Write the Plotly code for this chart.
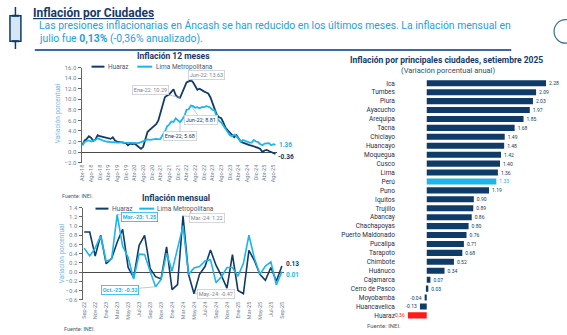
import plotly.graph_objects as go

W, H = 567, 335
def px(x): return x / W
def py(y): return 1 - y / H

FONT = "Roboto, sans-serif"
NAVY = "#0f3b68"
CYAN = "#1cb5ec"
TITLE = "#163a6b"
SUB = "#1f9ee0"
TICK = "#6f7f96"
YT = "#74b4e0"

# ---------------- data ----------------
MESES = ["Ene", "Feb", "Mar", "Abr", "May", "Jun", "Jul", "Ago", "Sep", "Oct", "Nov", "Dic"]

def month_labels(start_m, start_y, n):
    out = []
    m, y = start_m, start_y
    for _ in range(n):
        out.append(f"{MESES[m]}-{y:02d}")
        m += 1
        if m == 12:
            m = 0
            y += 1
    return out

meses_anual = month_labels(3, 18, 90)      # Abr-18 .. Sep-25
huaraz_anual = [1.3, 2.2, 2.5, 3.0, 2.7, 2.1, 2.4, 3.2, 3.0, 2.9,
                2.9, 2.8, 2.6, 2.5, 2.8, 2.2, 2.0, 1.9, 1.8, 1.8,
                1.7, 1.3, 1.6, 1.5, 1.6, 1.3, 1.0, 0.6, 1.0, 2.6,
                3.8, 4.2, 4.6, 5.0, 5.3, 6.0, 7.4, 8.8, 10.4, 10.7,
                10.9, 11.4, 11.9, 10.8, 10.4, 10.29, 11.2, 12.4, 13.2, 13.4,
                13.63, 13.2, 12.6, 11.8, 12.0, 11.7, 11.5, 11.3, 11.1, 10.4,
                9.2, 8.2, 7.0, 6.6, 6.4, 5.6, 4.6, 4.1, 3.6, 3.2,
                2.8, 3.2, 2.5, 2.0, 1.8, 1.6, 1.5, 1.3, 1.2, 1.1,
                1.0, 0.8, 0.6, 0.0, 0.3, 0.4, 0.2, 0.0, -0.3, -0.36]
lima_anual = [1.3, 1.9, 2.1, 2.2, 2.0, 2.1, 2.3, 2.6, 2.4, 2.2,
              2.1, 2.0, 1.9, 1.9, 1.9, 1.8, 1.8, 1.8, 1.9, 1.8,
              1.8, 1.8, 1.7, 1.8, 1.7, 1.8, 1.7, 1.9, 2.1, 2.3,
              2.4, 2.3, 2.4, 2.4, 2.5, 2.4, 2.5, 3.3, 3.8, 4.9,
              5.2, 5.8, 5.7, 6.4, 6.0, 5.68, 6.2, 6.8, 8.0, 8.1,
              8.81, 8.7, 8.4, 8.5, 8.3, 8.5, 8.5, 8.7, 8.6, 8.4,
              8.0, 7.9, 6.5, 5.9, 5.6, 5.0, 4.3, 3.6, 3.2, 3.0,
              3.3, 3.0, 2.4, 2.0, 2.3, 2.1, 2.0, 1.8, 1.8, 2.3,
              2.0, 1.9, 1.5, 1.3, 1.6, 1.7, 1.7, 1.3, 1.5, 1.36]

meses_mensual = month_labels(8, 22, 37)    # Sep-22 .. Sep-25
huaraz_mensual = [0.87, 0.87, 0.35, 0.80, 0.18, 0.30, 0.65, 0.93, 0.10, -0.12,
                  0.58, 0.80, 0.08, -0.10, -0.15, 0.55, -0.38, -0.27, 1.22, -0.05,
                  -0.47, -0.05, 0.12, 0.48, 0.15, -0.08, -0.35, 0.38, -0.40, -0.47,
                  0.47, 0.25, -0.05, -0.18, 0.10, -0.20, 0.13]
lima_mensual = [0.52, 0.35, 0.52, 0.79, 0.23, 0.29, 1.25, 0.56, 0.32, -0.15,
                0.39, 0.38, 0.02, -0.32, -0.16, 0.41, 0.02, 0.55, 1.01, -0.05,
                0.09, 0.12, 0.24, 0.27, -0.23, -0.10, 0.10, 0.10, -0.09, 0.19,
                0.80, 0.30, -0.05, 0.13, 0.22, -0.28, 0.01]

ciudades = ["Ica", "Tumbes", "Piura", "Ayacucho", "Arequipa", "Tacna", "Chiclayo",
            "Huancayo", "Moquegua", "Cusco", "Lima", "Perú", "Puno", "Iquitos",
            "Trujillo", "Abancay", "Chachapoyas", "Puerto Maldonado", "Pucallpa",
            "Tarapoto", "Chimbote", "Huánuco", "Cajamarca", "Cerro de Pasco",
            "Moyobamba", "Huancavelica", "Huaraz"]
inflacion_ciudad = [2.28, 2.09, 2.03, 1.97, 1.85, 1.68, 1.49, 1.48, 1.42, 1.40,
                    1.36, 1.33, 1.19, 0.90, 0.89, 0.86, 0.80, 0.76, 0.71, 0.68,
                    0.52, 0.34, 0.07, 0.03, -0.04, -0.13, -0.36]

# ---------------- figure ----------------
fig = go.Figure()

fig.add_trace(go.Scatter(x=meses_anual, y=huaraz_anual, mode="lines",
                         line=dict(color=NAVY, width=1.8), xaxis="x", yaxis="y",
                         showlegend=False))
fig.add_trace(go.Scatter(x=meses_anual, y=lima_anual, mode="lines",
                         line=dict(color=CYAN, width=1.8), xaxis="x", yaxis="y",
                         showlegend=False))
fig.add_trace(go.Scatter(x=meses_mensual, y=huaraz_mensual, mode="lines",
                         line=dict(color=NAVY, width=1.6), xaxis="x2", yaxis="y2",
                         showlegend=False))
fig.add_trace(go.Scatter(x=meses_mensual, y=lima_mensual, mode="lines",
                         line=dict(color=CYAN, width=1.6), xaxis="x2", yaxis="y2",
                         showlegend=False))

bar_colors = []
txt_colors = []
for c in ciudades:
    if c == "Perú":
        bar_colors.append(CYAN); txt_colors.append(CYAN)
    elif c == "Huaraz":
        bar_colors.append("#ff1a1a"); txt_colors.append("#ff1a1a")
    else:
        bar_colors.append(NAVY); txt_colors.append(NAVY)

fig.add_trace(go.Bar(x=inflacion_ciudad, y=ciudades, orientation="h",
                     marker=dict(color=bar_colors, line=dict(width=0)),
                     text=[f"{v:.2f}" for v in inflacion_ciudad],
                     textposition="outside", cliponaxis=False,
                     textfont=dict(size=5, color=txt_colors, family=FONT),
                     xaxis="x3", yaxis="y3", showlegend=False))

tickf = dict(size=6, color=TICK, family=FONT)

fig.update_layout(
    width=W, height=H, margin=dict(l=0, r=0, t=0, b=0),
    paper_bgcolor="white", plot_bgcolor="white",
    font=dict(family=FONT),
    bargap=0.32,
    xaxis=dict(domain=[px(80), px(276)], anchor="y", type="category",
               range=[-0.4, 89.5], tickvals=meses_anual[::4], tickangle=-90,
               tickfont=dict(size=5.5, color=TICK, family=FONT),
               showgrid=False, showline=False, ticks="", zeroline=False),
    yaxis=dict(domain=[py(162), py(65)], anchor="x", range=[-2, 16], dtick=2,
               tickformat=".1f", tickfont=tickf, showgrid=False,
               zeroline=True, zerolinecolor="#4a4a4a", zerolinewidth=1,
               showline=True, linecolor="#666", linewidth=1,
               ticks="outside", ticklen=3, tickcolor="#666"),
    xaxis2=dict(domain=[px(81), px(283)], anchor="y2", type="category",
                range=[-0.3, 36.3], tickvals=meses_mensual[::2], tickangle=-90,
                tickfont=dict(size=5.5, color=TICK, family=FONT),
                showgrid=False, showline=False, ticks="", zeroline=False),
    yaxis2=dict(domain=[py(302), py(208)], anchor="x2", range=[-0.6, 1.4], dtick=0.2,
                tickformat=".1f", tickfont=tickf, showgrid=False,
                zeroline=True, zerolinecolor="#4a4a4a", zerolinewidth=1,
                showline=True, linecolor="#666", linewidth=1,
                ticks="outside", ticklen=3, tickcolor="#666"),
    xaxis3=dict(domain=[px(400), px(560)], anchor="y3",
                range=[-27 / 52.6, 133 / 52.6], visible=False),
    yaxis3=dict(domain=[py(322.6), py(76.4)], anchor="x3", type="category",
                categoryorder="array", categoryarray=ciudades,
                range=[len(ciudades) - 0.5, -0.5], ticklabelstandoff=4,
                tickfont=dict(size=6.5, color="#1f2d4a", family=FONT),
                showgrid=False, showline=False, ticks="", zeroline=False),
)

ann = []
def A(x, y, text, size, color, bold=False, xanchor="center", **kw):
    t = f"<b>{text}</b>" if bold else text
    d = dict(x=px(x), y=py(y), xref="paper", yref="paper", text=t, showarrow=False,
             xanchor=xanchor, yanchor="middle",
             font=dict(size=size, color=color, family=FONT))
    d.update(kw)
    ann.append(d)

# header
A(29, 9, "<u>Inflación por Ciudades</u>", 12, TITLE, bold=True, xanchor="left")
A(35, 22, "Las presiones inflacionarias en Áncash se han reducido en los últimos meses. La inflación mensual en",
  10.4, SUB, xanchor="left")
A(35, 35, "julio fue <b>0,13%</b> (-0,36% anualizado).", 10.4, SUB, xanchor="left")

# chart titles
A(172, 53, "Inflación 12 meses", 8.5, TITLE, bold=True)
A(175, 198, "Inflación mensual", 8.5, TITLE, bold=True)
A(447, 57, "Inflación por principales ciudades, setiembre 2025", 8.5, TITLE, bold=True)
A(448, 68, "(Variación porcentual anual)", 7.5, "#3b4a63")

# legends text
A(105, 64, "Huaraz", 6.5, "#4a5a72", xanchor="left")
A(153, 64, "Lima Metropolitana", 6.5, "#4a5a72", xanchor="left")
A(109, 209, "Huaraz", 6.5, "#4a5a72", xanchor="left")
A(154, 209, "Lima Metropolitana", 6.5, "#4a5a72", xanchor="left")

# y titles
A(56, 112, "Variación porcentual", 6.5, YT, textangle=-90)
A(60, 255, "Variación porcentual", 6.5, YT, textangle=-90)

# sources
A(58, 196, "Fuente: INEI.", 5.5, "#4a5a72", xanchor="left")
A(60, 332, "Fuente: INEI.", 5.5, "#4a5a72", xanchor="left")
A(365, 328, "Fuente: INEI.", 6, "#4a5a72", xanchor="left")

# end labels
ann.append(dict(x=meses_anual[-1], y=lima_anual[-1], xref="x", yref="y", text="<b>1.36</b>",
                showarrow=False, xanchor="left", xshift=2, font=dict(size=6.5, color=CYAN, family=FONT)))
ann.append(dict(x=meses_anual[-1], y=huaraz_anual[-1], xref="x", yref="y", text="<b>-0.36</b>",
                showarrow=False, xanchor="left", xshift=1, yshift=-3, font=dict(size=6.5, color=NAVY, family=FONT)))
ann.append(dict(x=meses_mensual[-1], y=huaraz_mensual[-1], xref="x2", yref="y2", text="<b>0.13</b>",
                showarrow=False, xanchor="left", xshift=2, yshift=2, font=dict(size=6.5, color=NAVY, family=FONT)))
ann.append(dict(x=meses_mensual[-1], y=lima_mensual[-1], xref="x2", yref="y2", text="<b>0.01</b>",
                showarrow=False, xanchor="left", xshift=2, yshift=-3, font=dict(size=6.5, color=CYAN, family=FONT)))

# callouts
def callout(xref, yref, xv, yv, text, ax, ay, color, border, bold=False):
    t = f"<b>{text}</b>" if bold else text
    ann.append(dict(x=xv, y=yv, xref=xref, yref=yref, text=t, showarrow=True,
                    arrowhead=0, arrowwidth=0.6, arrowcolor="#9aa3ad", ax=ax, ay=ay,
                    bgcolor="white", bordercolor=border, borderwidth=0.8, borderpad=1,
                    font=dict(size=5.5, color=color, family=FONT)))

i = meses_anual.index("Jun-22"); callout("x", "y", meses_anual[i], huaraz_anual[i], "Jun-22: 13.63", 16, -5, "#7a8594", "#c8cdd3")
i = meses_anual.index("Ene-22"); callout("x", "y", meses_anual[i], huaraz_anual[i], "Ene-22: 10.29", -30, -8, "#7a8594", "#c8cdd3")
i = meses_anual.index("Jun-22"); callout("x", "y", meses_anual[i], lima_anual[i], "Jun-22; 8.81", 10, 14, NAVY, "#c8cdd3")
i = meses_anual.index("Ene-22"); callout("x", "y", meses_anual[i], lima_anual[i], "Ene-22; 5.68", 0, 14, NAVY, "#c8cdd3")

i = meses_mensual.index("Mar-23"); callout("x2", "y2", meses_mensual[i], lima_mensual[i], "Mar.-23: 1.25", 22, 2, CYAN, CYAN, bold=True)
i = meses_mensual.index("Mar-24"); callout("x2", "y2", meses_mensual[i], huaraz_mensual[i], "Mar.-24: 1.22", 24, 2, "#7a8594", "#c8cdd3")
i = meses_mensual.index("Oct-23"); callout("x2", "y2", meses_mensual[i], lima_mensual[i], "Oct.-23: -0.32", -36, 3, CYAN, CYAN, bold=True)
i = meses_mensual.index("May-24"); callout("x2", "y2", meses_mensual[i], huaraz_mensual[i], "May.-24: -0.47", 22, 0, "#7a8594", "#c8cdd3")

fig.update_layout(annotations=ann)

shapes = []
def L(x0, y0, x1, y1, color, width):
    shapes.append(dict(type="line", xref="paper", yref="paper", x0=px(x0), y0=py(y0),
                       x1=px(x1), y1=py(y1), line=dict(color=color, width=width)))
# header rule
L(33, 47, 512, 47, "#3a6c95", 2)
# legend lines
L(90, 64, 103, 64, NAVY, 2)
L(136, 64, 151, 64, CYAN, 2)
L(94, 209, 107, 209, NAVY, 2)
L(138, 209, 153, 209, CYAN, 2)
# decorative icons
shapes.append(dict(type="rect", xref="paper", yref="paper", x0=px(8), x1=px(19), y0=py(38), y1=py(12),
                   line=dict(color=NAVY, width=1.5), fillcolor="#d6e6f4"))
L(13.5, 3, 13.5, 12, NAVY, 1.5)
L(13.5, 38, 13.5, 46, NAVY, 1.5)
L(10, 12, 17, 12, NAVY, 2)
L(10, 38, 17, 38, NAVY, 2)
shapes.append(dict(type="circle", xref="paper", yref="paper", x0=px(555), x1=px(578), y0=py(40), y1=py(16),
                   line=dict(color="#3a6c95", width=1.2), fillcolor="white"))
fig.update_layout(shapes=shapes)

fig.write_html("out.html")
